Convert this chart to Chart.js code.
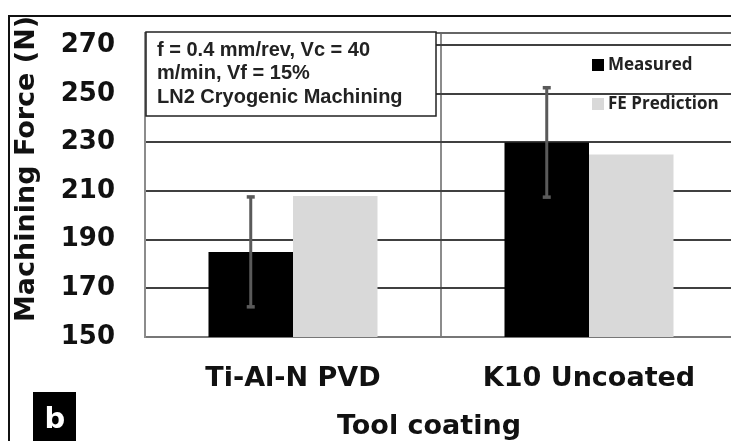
<!DOCTYPE html>
<html>
<head>
<style>
  html, body { margin: 0; padding: 0; overflow: hidden; background: #fff; }
  #wrap { position: absolute; left: 0; top: 0; width: 745px; height: 441px; }
</style>
</head>
<body>
<div id="wrap"><canvas id="chart" width="745" height="441"></canvas></div>

<script src="https://cdn.jsdelivr.net/npm/chart.js"></script>
<script type="text/javascript">
    const categories = ['Ti-Al-N PVD', 'K10 Uncoated'];
    const measured = [185, 230];
    const measuredErr = [22.7, 22.6];
    const fePrediction = [208, 225];
    const yTicks = [150, 170, 190, 210, 230, 250, 270];
    const noteLines = ['f = 0.4 mm/rev, Vc = 40', 'm/min, Vf = 15%', 'LN2 Cryogenic Machining'];

    const boldAxis = 'bold 27px "DejaVu Sans"';

    // outer frame of the figure panel
    const framePlugin = {
        id: 'frame',
        beforeDraw(chart) {
            const ctx = chart.ctx;
            ctx.save();
            ctx.strokeStyle = '#111';
            ctx.lineWidth = 2;
            ctx.beginPath();
            ctx.moveTo(9, 441);
            ctx.lineTo(9, 16);
            ctx.lineTo(745, 16);
            ctx.stroke();
            ctx.restore();
        }
    };

    // top edge of plot area
    const plotBorderPlugin = {
        id: 'plotBorder',
        beforeDatasetsDraw(chart) {
            const a = chart.chartArea, ctx = chart.ctx;
            ctx.save();
            ctx.strokeStyle = '#666';
            ctx.lineWidth = 2;
            ctx.beginPath();
            ctx.moveTo(a.left, a.top);
            ctx.lineTo(a.right, a.top);
            ctx.stroke();
            ctx.restore();
        }
    };

    const errorBarPlugin = {
        id: 'errorBars',
        afterDatasetsDraw(chart) {
            const ctx = chart.ctx, y = chart.scales.y;
            const meta = chart.getDatasetMeta(0);
            ctx.save();
            ctx.strokeStyle = '#5a5a5a';
            ctx.fillStyle = '#5a5a5a';
            ctx.lineWidth = 3;
            meta.data.forEach((bar, i) => {
                const top = y.getPixelForValue(measured[i] + measuredErr[i]);
                const bot = y.getPixelForValue(measured[i] - measuredErr[i]);
                ctx.beginPath();
                ctx.moveTo(bar.x, top);
                ctx.lineTo(bar.x, bot);
                ctx.stroke();
                ctx.fillRect(bar.x - 4, top - 1.5, 8, 3.5);
                ctx.fillRect(bar.x - 4, bot - 2, 8, 3.5);
            });
            ctx.restore();
        }
    };

    const annotationsPlugin = {
        id: 'annotations',
        afterDraw(chart) {
            const ctx = chart.ctx;
            ctx.save();

            // note box
            ctx.fillStyle = '#fff';
            ctx.fillRect(146, 32, 290, 84);
            ctx.strokeStyle = '#222';
            ctx.lineWidth = 1.5;
            ctx.strokeRect(146, 32, 290, 84);
            ctx.fillStyle = '#222';
            ctx.font = 'bold 20px "Liberation Sans"';
            ctx.textBaseline = 'middle';
            ctx.textAlign = 'left';
            noteLines.forEach((t, i) => ctx.fillText(t, 157, 50 + i * 23.5));

            // legend
            ctx.font = 'bold 17px "Open Sans"';
            chart.data.datasets.forEach((ds, i) => {
                const yy = 65 + i * 39;
                ctx.fillStyle = ds.backgroundColor;
                ctx.fillRect(592, yy - 6, 12, 12);
                ctx.fillStyle = '#222';
                ctx.fillText(ds.label, 608, yy);
            });

            // axis titles
            ctx.fillStyle = '#111';
            ctx.font = boldAxis;
            ctx.textAlign = 'center';
            ctx.fillText('Tool coating', 429, 427);
            ctx.translate(27, 169);
            ctx.rotate(-Math.PI / 2);
            ctx.fillText('Machining Force (N)', 0, 0);
            ctx.setTransform(1, 0, 0, 1, 0, 0);

            // panel letter
            ctx.fillStyle = '#000';
            ctx.fillRect(33, 392, 43, 50);
            ctx.fillStyle = '#fff';
            ctx.font = 'bold 29px "DejaVu Sans"';
            ctx.fillText('b', 55, 420);
            ctx.restore();
        }
    };

    new Chart(document.getElementById('chart'), {
        type: 'bar',
        data: {
            labels: categories,
            datasets: [{
                label: 'Measured',
                data: measured,
                backgroundColor: '#000000'
            }, {
                label: 'FE Prediction',
                data: fePrediction,
                backgroundColor: '#d9d9d9'
            }]
        },
        options: {
            responsive: false,
            animation: false,
            layout: {
                padding: { left: 9, right: 8, top: 33, bottom: 0 }
            },
            datasets: {
                bar: { categoryPercentage: 0.571, barPercentage: 1.0 }
            },
            scales: {
                x: {
                    afterFit: (s) => { s.height = 104; s.paddingLeft = 0; s.paddingRight = 0; },
                    grid: { offset: true, color: '#8c8c8c', lineWidth: 2, drawTicks: false },
                    border: { display: true, color: '#777', width: 2 },
                    ticks: {
                        color: '#111',
                        font: { family: 'DejaVu Sans', weight: 'bold', size: 27 },
                        padding: 26
                    }
                },
                y: {
                    min: 150,
                    max: 275,
                    afterFit: (s) => { s.width = 136; s.paddingTop = 0; s.paddingBottom = 0; },
                    afterBuildTicks: (s) => { s.ticks = yTicks.map(v => ({ value: v })); },
                    grid: { color: '#404040', lineWidth: 2, drawTicks: false },
                    border: { display: true, color: '#8c8c8c', width: 2 },
                    ticks: {
                        color: '#111',
                        font: { family: 'DejaVu Sans', weight: 'bold', size: 26 },
                        padding: 30
                    }
                }
            },
            plugins: {
                legend: { display: false },
                tooltip: { enabled: false }
            }
        },
        plugins: [framePlugin, plotBorderPlugin, errorBarPlugin, annotationsPlugin]
    });
</script>
</body>
</html>
